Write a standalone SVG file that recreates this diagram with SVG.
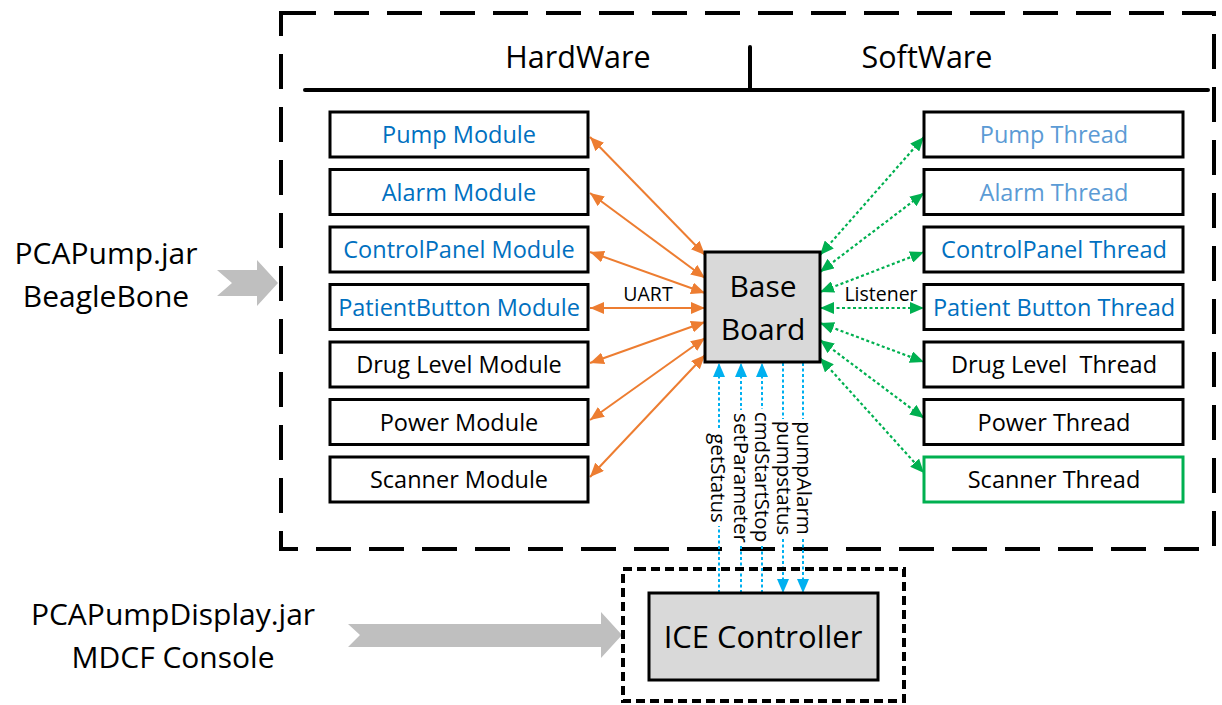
<svg xmlns="http://www.w3.org/2000/svg" width="1222" height="705" viewBox="0 0 1222 705">
<style>
text{font-family:"Open Sans","DejaVu Sans",sans-serif;}
.box{fill:#fff;stroke:#000;stroke-width:3;}
.lbl{font-size:23.5px;text-anchor:middle;}
.blue{fill:#0070C0;}
.lblue{fill:#5B9BD5;}
.or{stroke:#ED7D31;stroke-width:2;fill:none;marker-start:url(#ao);marker-end:url(#ao);}
.gr{stroke:#00B050;stroke-width:2.2;stroke-dasharray:3 2.5;fill:none;marker-start:url(#ag);marker-end:url(#ag);}
.bl{stroke:#00B0F0;stroke-width:2;stroke-dasharray:3 2.5;fill:none;marker-end:url(#ab);}
.vt{font-size:20.5px;text-anchor:middle;}
.arrowg{fill:#BFBFBF;}
</style>
<defs>
<marker id="ao" markerUnits="userSpaceOnUse" markerWidth="16" markerHeight="12" refX="14" refY="6" orient="auto-start-reverse"><path d="M0,0 L14,6 L0,12 Z" fill="#ED7D31"/></marker>
<marker id="ag" markerUnits="userSpaceOnUse" markerWidth="16" markerHeight="12" refX="14" refY="6" orient="auto-start-reverse"><path d="M0,0 L14,6 L0,12 Z" fill="#00B050"/></marker>
<marker id="ab" markerUnits="userSpaceOnUse" markerWidth="16" markerHeight="12" refX="14" refY="6" orient="auto-start-reverse"><path d="M0,0 L14,6 L0,12 Z" fill="#00B0F0"/></marker>
</defs>

<g id="outer">
<rect x="281" y="13" width="933" height="536" fill="none" stroke="#000" stroke-width="4" stroke-dasharray="35 18"/>
<line x1="305" y1="90" x2="1208" y2="90" stroke="#000" stroke-width="4" stroke-linecap="round"/>
<line x1="750" y1="47" x2="750" y2="90" stroke="#000" stroke-width="4" stroke-linecap="round"/>
<text x="578" y="68" font-size="30.5" text-anchor="middle">HardWare</text>
<text x="927" y="68" font-size="30.5" text-anchor="middle">SoftWare</text>
</g>

<g id="left-labels">
<text x="106" y="264" font-size="30" text-anchor="middle">PCAPump.jar</text>
<text x="106" y="307" font-size="30" text-anchor="middle">BeagleBone</text>
<polygon class="arrowg" points="217,270 257,270 257,260 278,283 257,306 257,296 217,296 232,283"/>
<text x="173" y="625" font-size="30" text-anchor="middle">PCAPumpDisplay.jar</text>
<text x="173" y="668" font-size="30" text-anchor="middle">MDCF Console</text>
<polygon class="arrowg" points="348,624 601,624 601,612 622,635 601,658 601,647 348,647 360,635"/>
</g>

<g id="connectors">
<line class="or" x1="705" y1="255" x2="590" y2="137"/>
<line class="or" x1="705" y1="278" x2="590" y2="193"/>
<line class="or" x1="705" y1="293" x2="590" y2="252"/>
<line class="or" x1="705" y1="308" x2="590" y2="308"/>
<line class="or" x1="705" y1="322" x2="590" y2="363"/>
<line class="or" x1="705" y1="338" x2="590" y2="420"/>
<line class="or" x1="705" y1="355" x2="590" y2="477"/>
<text x="648" y="301" font-size="19.5" text-anchor="middle">UART</text>

<line class="gr" x1="820" y1="255" x2="924" y2="137"/>
<line class="gr" x1="820" y1="272" x2="924" y2="193"/>
<line class="gr" x1="820" y1="292" x2="924" y2="252"/>
<line class="gr" x1="820" y1="308" x2="924" y2="308"/>
<line class="gr" x1="820" y1="323" x2="924" y2="362"/>
<line class="gr" x1="820" y1="340" x2="924" y2="418"/>
<line class="gr" x1="820" y1="358" x2="924" y2="473"/>
<text x="881" y="301" font-size="19.5" text-anchor="middle">Listener</text>

<line class="bl" x1="719" y1="593" x2="719" y2="363"/>
<line class="bl" x1="741" y1="593" x2="741" y2="363"/>
<line class="bl" x1="762" y1="593" x2="762" y2="363"/>
<line class="bl" x1="783" y1="363" x2="783" y2="593"/>
<line class="bl" x1="803" y1="363" x2="803" y2="593"/>
<rect x="708" y="430" width="19" height="96" fill="#fff"/>
<rect x="731" y="410" width="19" height="136" fill="#fff"/>
<rect x="752" y="409" width="19" height="136" fill="#fff"/>
<rect x="774" y="419" width="19" height="119" fill="#fff"/>
<rect x="794" y="419" width="19" height="119" fill="#fff"/>
<text class="vt" transform="translate(711,478) rotate(90)">getStatus</text>
<text class="vt" transform="translate(734,478) rotate(90)">setParameter</text>
<text class="vt" transform="translate(755,477) rotate(90)">cmdStartStop</text>
<text class="vt" transform="translate(777,478) rotate(90)">pumpstatus</text>
<text class="vt" transform="translate(797,478) rotate(90)">pumpAlarm</text>
</g>

<g id="base-board">
<rect x="705" y="252" width="115" height="110" fill="#D9D9D9" stroke="#000" stroke-width="3"/>
<text x="763" y="297" font-size="30" text-anchor="middle">Base</text>
<text x="763" y="340" font-size="30" text-anchor="middle">Board</text>
</g>

<g id="ice">
<rect x="623" y="569" width="281" height="132" fill="none" stroke="#000" stroke-width="4" stroke-dasharray="9 5"/>
<rect x="649" y="593" width="229" height="87" fill="#D9D9D9" stroke="#000" stroke-width="3"/>
<text x="763" y="648" font-size="31" text-anchor="middle">ICE Controller</text>
</g>

<g id="pump-module"><rect class="box" x="330" y="112" width="258" height="45"/><text class="lbl blue" x="459" y="143">Pump Module</text></g>
<g id="alarm-module"><rect class="box" x="330" y="169.5" width="258" height="45"/><text class="lbl blue" x="459" y="200.5">Alarm Module</text></g>
<g id="controlpanel-module"><rect class="box" x="330" y="227" width="258" height="45"/><text class="lbl blue" x="459" y="258">ControlPanel Module</text></g>
<g id="patientbutton-module"><rect class="box" x="330" y="284.5" width="258" height="45"/><text class="lbl blue" x="459" y="315.5">PatientButton Module</text></g>
<g id="druglevel-module"><rect class="box" x="330" y="342" width="258" height="45"/><text class="lbl" x="459" y="373">Drug Level Module</text></g>
<g id="power-module"><rect class="box" x="330" y="399.5" width="258" height="45"/><text class="lbl" x="459" y="430.5">Power Module</text></g>
<g id="scanner-module"><rect class="box" x="330" y="457" width="258" height="45"/><text class="lbl" x="459" y="488">Scanner Module</text></g>

<g id="pump-thread"><rect class="box" x="924" y="112" width="259" height="45"/><text class="lbl lblue" x="1054" y="143">Pump Thread</text></g>
<g id="alarm-thread"><rect class="box" x="924" y="169.5" width="259" height="45"/><text class="lbl lblue" x="1054" y="200.5">Alarm Thread</text></g>
<g id="controlpanel-thread"><rect class="box" x="924" y="227" width="259" height="45"/><text class="lbl blue" x="1054" y="258">ControlPanel Thread</text></g>
<g id="patientbutton-thread"><rect class="box" x="924" y="284.5" width="259" height="45"/><text class="lbl blue" x="1054" y="315.5">Patient Button Thread</text></g>
<g id="druglevel-thread"><rect class="box" x="924" y="342" width="259" height="45"/><text class="lbl" x="1054" y="373" style="white-space:pre">Drug Level  Thread</text></g>
<g id="power-thread"><rect class="box" x="924" y="399.5" width="259" height="45"/><text class="lbl" x="1054" y="430.5">Power Thread</text></g>
<g id="scanner-thread"><rect class="box" x="924" y="457" width="259" height="45" style="stroke:#00B050"/><text class="lbl" x="1054" y="488">Scanner Thread</text></g>
</svg>
